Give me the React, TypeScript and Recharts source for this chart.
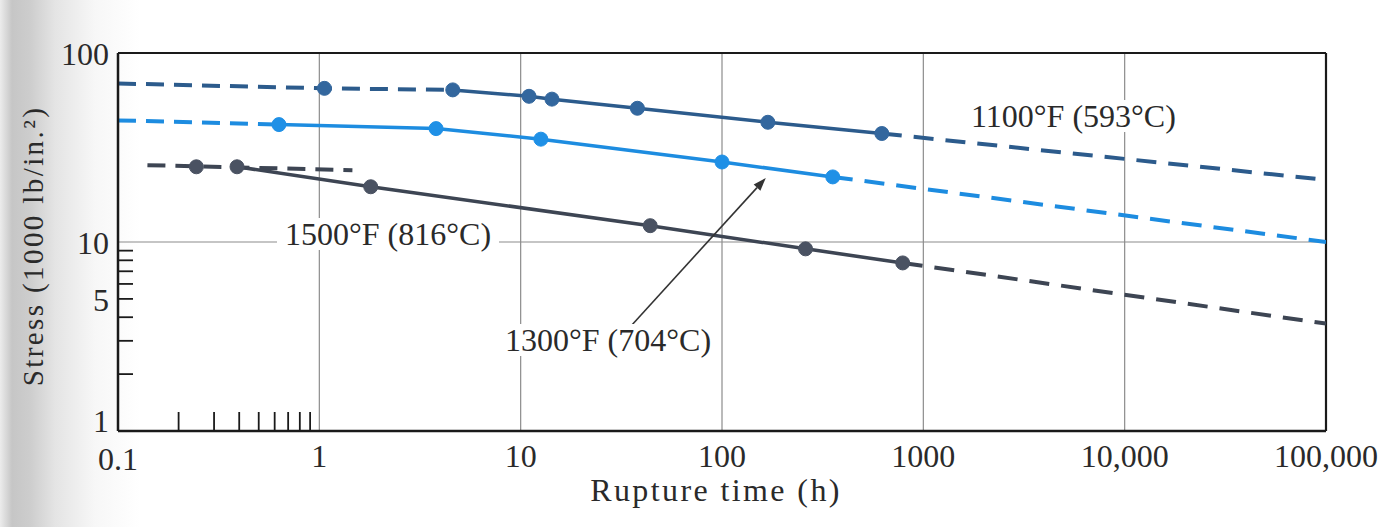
import React from 'react';
import { ComposedChart, Line, Scatter, XAxis, YAxis, ReferenceLine } from 'recharts';

const FONT = '"Liberation Serif", "Times New Roman", serif';

// axis ticks
const xMajorTicks = [0.1, 1, 10, 100, 1000, 10000, 100000];
const xMajorLabels = ['0.1', '1', '10', '100', '1000', '10,000', '100,000'];
const xMinorTicks = [0.2, 0.3, 0.4, 0.5, 0.6, 0.7, 0.8, 0.9];
const yMajorTicks = [1, 10, 100];
const yMinorTicks = [2, 3, 4, 5, 6, 7, 8, 9];
const yLabelled = [1, 5, 10, 100];
const xGridLines = [1, 10, 100, 1000, 10000];
const yGridLines = [10];

// 1100°F (593°C)
const time1100 = [1.06, 4.6, 11, 14.3, 38, 169, 622];
const stress1100 = [65, 63.8, 59, 57, 51, 43, 37.5];
const leftTime1100 = [0.1, 1.06, 4.6];
const leftStress1100 = [69, 65, 63.8];
const rightTime1100 = [622, 100000];
const rightStress1100 = [37.5, 21.3];

// 1300°F (704°C)
const time1300 = [0.63, 3.8, 12.6, 100, 355];
const stress1300 = [41.8, 39.8, 35, 26.5, 22.1];
const leftTime1300 = [0.1, 0.63];
const leftStress1300 = [44, 41.8];
const rightTime1300 = [355, 100000];
const rightStress1300 = [22.1, 10];

// 1500°F (816°C)
const time1500 = [0.245, 0.39, 1.8, 44, 260, 790];
const stress1500 = [25, 25, 19.6, 12.2, 9.2, 7.75];
const leftTime1500 = [0.14, 1.46];
const leftStress1500 = [25.5, 24];
const rightTime1500 = [790, 100000];
const rightStress1500 = [7.75, 3.7];

// arrow pointing at the 1300°F curve
const arrowTime = [34.5, 165];
const arrowStress = [3.5, 21.8];

const pts = (xs: number[], ys: number[]) => xs.map((x, i) => ({ x, y: ys[i] }));

const C1100 = '#2c5b8c';
const C1300 = '#1d8ce0';
const C1500 = '#3d4553';

const XTick = (props: any) => {
  const { x, y, payload } = props;
  const i = xMajorTicks.indexOf(payload.value);
  if (i < 0) {
    return <line x1={x} x2={x} y1={y} y2={y - 19} stroke="#1a1a1a" strokeWidth={1.8} />;
  }
  // "0.1" drops a touch lower, under the y-axis "1"
  const dy = i === 0 ? 39 : 36;
  return (
    <text x={x} y={y + dy} textAnchor="middle" fontFamily={FONT} fontSize={32} fill="#2a2a2a">
      {xMajorLabels[i]}
    </text>
  );
};

const YTick = (props: any) => {
  const { x, y, payload } = props;
  const v = payload.value;
  const dy = v === 1 ? 1 : 12;
  return (
    <g>
      {yMinorTicks.includes(v) && (
        <line x1={x} x2={x + 15} y1={y} y2={y} stroke="#1a1a1a" strokeWidth={1.8} />
      )}
      {yLabelled.includes(v) && (
        <text x={x - 9} y={y + dy} textAnchor="end" fontFamily={FONT} fontSize={32} fill="#2a2a2a">
          {v}
        </text>
      )}
    </g>
  );
};

const XTitle = (props: any) => {
  const vb = props.viewBox || { x: 118, y: 431, width: 1208, height: 96 };
  return (
    <text
      x={vb.x + vb.width / 2 - 6}
      y={vb.y + 70}
      textAnchor="middle"
      fontFamily={FONT}
      fontSize={32}
      letterSpacing={2.4}
      fill="#2a2a2a"
    >
      Rupture time (h)
    </text>
  );
};

const YTitle = (props: any) => {
  const vb = props.viewBox || { x: 18, y: 53, width: 100, height: 378 };
  const cx = 33;
  const cy = vb.y + vb.height / 2 + 4;
  return (
    <text
      x={cx}
      y={cy}
      dy={10}
      transform={`rotate(-90, ${cx}, ${cy})`}
      textAnchor="middle"
      fontFamily={FONT}
      fontSize={29}
      letterSpacing={2.4}
      fill="#2a2a2a"
    >
      Stress (1000 lb/in.²)
    </text>
  );
};

const Arrow = (props: any) => {
  const { x1, y1, x2, y2 } = props;
  const ang = Math.atan2(y2 - y1, x2 - x1);
  const len = 13;
  const w = 4.5;
  const bx = x2 - len * Math.cos(ang);
  const by = y2 - len * Math.sin(ang);
  const px = -Math.sin(ang) * w;
  const py = Math.cos(ang) * w;
  return (
    <g>
      <line x1={x1} y1={y1} x2={bx} y2={by} stroke="#333" strokeWidth={1.6} />
      <polygon points={`${x2},${y2} ${bx + px},${by + py} ${bx - px},${by - py}`} fill="#333" />
    </g>
  );
};

const dot = (color: string) => (p: any) => (
  <circle cx={p.cx} cy={p.cy} r={7} fill={color} stroke={color} strokeWidth={1} />
);

const labelStyle: React.CSSProperties = {
  position: 'absolute',
  fontFamily: FONT,
  fontSize: 32,
  lineHeight: '32px',
  color: '#2a2a2a',
  background: '#fff',
  whiteSpace: 'nowrap',
};

export default function App() {
  return (
    <div
      style={{
        position: 'relative',
        width: 1393,
        height: 527,
        overflow: 'hidden',
        background:
          'linear-gradient(to right, #ececec 0px, #c6c6c6 12px, #cdcdcd 30px, #e4e4e4 55px, #f7f7f7 95px, #ffffff 140px)',
      }}
    >
      <style>{'body{margin:0}'}</style>
      <ComposedChart width={1393} height={527} margin={{ top: 53, right: 67, bottom: 0, left: 18 }}>
        <XAxis
          type="number"
          dataKey="x"
          scale="log"
          domain={[0.1, 100000]}
          allowDataOverflow
          ticks={[...xMajorTicks, ...xMinorTicks].sort((a, b) => a - b)}
          interval={0}
          tick={<XTick />}
          tickLine={false}
          tickSize={0}
          tickMargin={0}
          height={96}
          axisLine={{ stroke: '#1a1a1a', strokeWidth: 2.5 }}
          label={<XTitle />}
        />
        <YAxis
          type="number"
          dataKey="y"
          scale="log"
          domain={[1, 100]}
          allowDataOverflow
          ticks={[...yMajorTicks, ...yMinorTicks].sort((a, b) => a - b)}
          interval={0}
          tick={<YTick />}
          tickLine={false}
          tickSize={0}
          tickMargin={0}
          width={100}
          axisLine={{ stroke: '#1a1a1a', strokeWidth: 2.5 }}
          label={<YTitle />}
        />
        {xGridLines.map((v) => (
          <ReferenceLine key={'gx' + v} x={v} stroke="#8c8c8c" strokeWidth={1.2} />
        ))}
        {yGridLines.map((v) => (
          <ReferenceLine key={'gy' + v} y={v} stroke="#8c8c8c" strokeWidth={1.2} />
        ))}
        <ReferenceLine y={100} stroke="#1a1a1a" strokeWidth={2.2} />
        <ReferenceLine x={100000} stroke="#1a1a1a" strokeWidth={2.2} />

        {/* 1500°F */}
        <Line data={pts(leftTime1500, leftStress1500)} dataKey="y" stroke={C1500} strokeWidth={4} strokeDasharray="18 10" dot={false} isAnimationActive={false} />
        <Line data={pts(time1500.slice(1), stress1500.slice(1))} dataKey="y" stroke={C1500} strokeWidth={3.5} dot={false} isAnimationActive={false} />
        <Line data={pts(rightTime1500, rightStress1500)} dataKey="y" stroke={C1500} strokeWidth={4} strokeDasharray="20 12" dot={false} isAnimationActive={false} />
        <Scatter data={pts(time1500, stress1500)} fill={C1500} shape={dot('#4a5262')} isAnimationActive={false} />

        {/* 1300°F */}
        <Line data={pts(leftTime1300, leftStress1300)} dataKey="y" stroke={C1300} strokeWidth={4} strokeDasharray="18 10" dot={false} isAnimationActive={false} />
        <Line data={pts(time1300, stress1300)} dataKey="y" stroke={C1300} strokeWidth={3.5} dot={false} isAnimationActive={false} />
        <Line data={pts(rightTime1300, rightStress1300)} dataKey="y" stroke={C1300} strokeWidth={4} strokeDasharray="20 12" dot={false} isAnimationActive={false} />
        <Scatter data={pts(time1300, stress1300)} fill={C1300} shape={dot('#1f90e6')} isAnimationActive={false} />

        {/* 1100°F */}
        <Line data={pts(leftTime1100, leftStress1100)} dataKey="y" stroke={C1100} strokeWidth={4} strokeDasharray="18 10" dot={false} isAnimationActive={false} />
        <Line data={pts(time1100.slice(1), stress1100.slice(1))} dataKey="y" stroke={C1100} strokeWidth={3.5} dot={false} isAnimationActive={false} />
        <Line data={pts(rightTime1100, rightStress1100)} dataKey="y" stroke={C1100} strokeWidth={4} strokeDasharray="20 12" dot={false} isAnimationActive={false} />
        <Scatter data={pts(time1100, stress1100)} fill={C1100} shape={dot('#33679e')} isAnimationActive={false} />

        <ReferenceLine
          segment={pts(arrowTime, arrowStress)}
          stroke="#333"
          shape={(p: any) => <Arrow {...p} />}
        />
      </ComposedChart>

      <div style={{ ...labelStyle, left: 963, top: 100, padding: '0 8px' }}>1100°F (593°C)</div>
      <div style={{ ...labelStyle, left: 277, top: 218, padding: '0 8px' }}>1500°F (816°C)</div>
      <div style={{ ...labelStyle, left: 499, top: 324, padding: '0 6px' }}>1300°F (704°C)</div>
    </div>
  );
}
